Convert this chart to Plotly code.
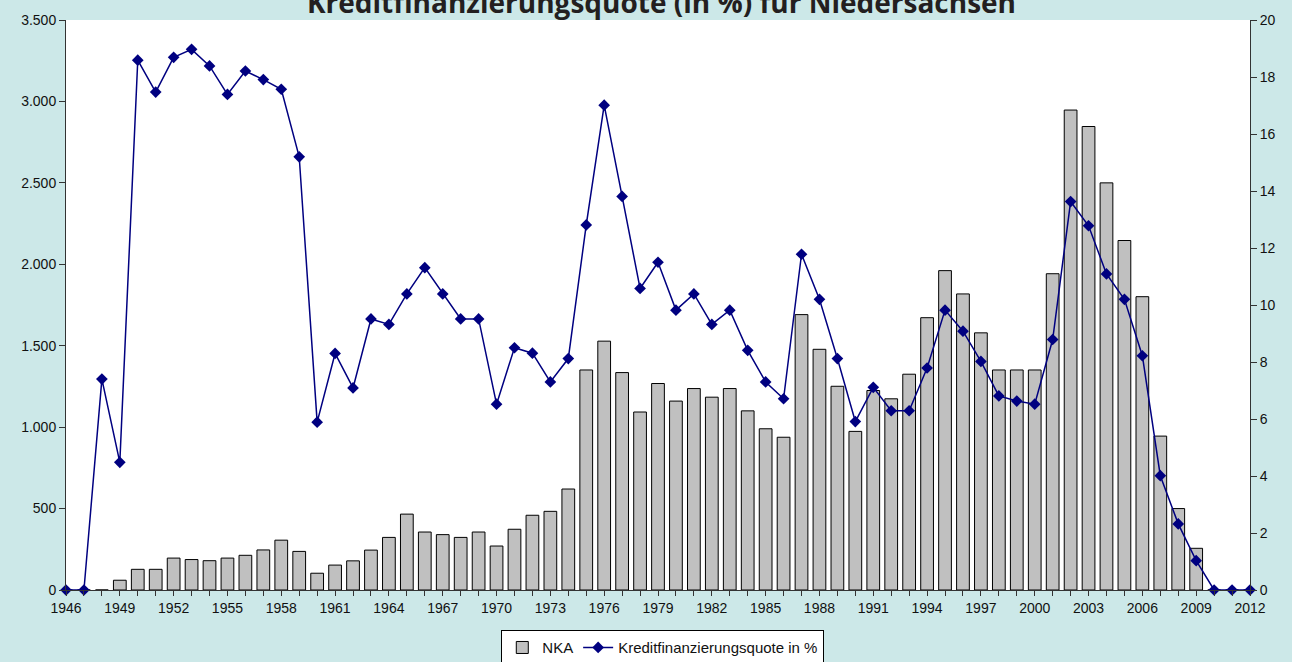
import plotly.graph_objects as go

years = list(range(1946, 2013))
nka = [0, 0, 0, 60, 127, 127, 196, 187, 180, 196, 213, 246, 306, 237, 103, 153, 179,
       245, 323, 466, 356, 340, 323, 356, 270, 373, 459, 483, 620, 1351, 1528, 1335,
       1093, 1268, 1160, 1237, 1184, 1237, 1100, 990, 938, 1691, 1478, 1251, 974, 1225,
       1174, 1325, 1672, 1961, 1818, 1579, 1351, 1351, 1351, 1942, 2947, 2846, 2500,
       2146, 1801, 945, 500, 256, 0, 0, 0]
quote = [0, 0, 7.4, 4.48, 18.59, 17.47, 18.69, 18.97, 18.39, 17.39, 18.21, 17.91, 17.57,
         15.2, 5.89, 8.3, 7.09, 9.51, 9.32, 10.39, 11.31, 10.39, 9.51, 9.51, 6.52, 8.5,
         8.31, 7.3, 8.12, 12.81, 17.01, 13.81, 10.58, 11.5, 9.82, 10.39, 9.32, 9.82, 8.41,
         7.3, 6.71, 11.78, 10.2, 8.12, 5.91, 7.11, 6.29, 6.29, 7.79, 9.82, 9.08, 8.02,
         6.81, 6.63, 6.52, 8.79, 13.63, 12.78, 11.09, 10.2, 8.22, 4.01, 2.32, 1.03, 0, 0, 0]

title_text = "Kreditfinanzierungsquote (in %) für Niedersachsen"
bar_name = "NKA"
line_name = "Kreditfinanzierungsquote in %"

fig = go.Figure()
fig.add_trace(go.Bar(
    x=years, y=nka, name=bar_name, width=0.71,
    marker=dict(color="#C0C0C0", line=dict(color="#000000", width=1)),
))
fig.add_trace(go.Scatter(
    x=years, y=quote, name=line_name, yaxis="y2", mode="lines+markers",
    line=dict(color="#000080", width=1.5),
    marker=dict(symbol="diamond", size=9, color="#000080"),
    cliponaxis=False,
))

axis_font = dict(family="Liberation Sans, Arial", size=14, color="#111111")
fig.update_layout(
    width=1292, height=662,
    paper_bgcolor="#CCE8E8", plot_bgcolor="#FFFFFF",
    margin=dict(l=66, r=42, t=20, b=72, autoexpand=False),
    separators=",.",
    title=dict(text="<b>" + title_text + "</b>", x=0.512, xanchor="center",
               y=0.9955, yref="container", yanchor="middle",
               font=dict(family="Open Sans, Noto Sans", size=28, color="#231F20")),
    bargap=0.3,
    showlegend=True,
    legend=dict(orientation="h", x=0.513, xanchor="center", xref="container",
                y=0.048, yanchor="top", yref="container",
                bgcolor="#FFFFFF", bordercolor="#000000", borderwidth=1,
                font=dict(family="Liberation Sans, Arial", size=15, color="#111111"),
                itemwidth=30, tracegroupgap=0),
    xaxis=dict(range=[1946, 2012], tickmode="linear", tick0=1946, dtick=3,
               ticks="outside", ticklen=5, tickcolor="#333333",
               showline=True, linecolor="#333333", linewidth=1,
               showgrid=False, zeroline=False, tickfont=axis_font,
               minor=dict(tickmode="linear", tick0=1946, dtick=1, ticks="outside",
                          ticklen=5, tickcolor="#333333", showgrid=False)),
    yaxis=dict(range=[0, 3500], tickmode="linear", tick0=0, dtick=500,
               tickformat=",d", ticks="outside", ticklen=6, tickcolor="#333333",
               showline=True, linecolor="#333333", linewidth=1,
               showgrid=False, zeroline=False, tickfont=axis_font),
    yaxis2=dict(range=[0, 20], tickmode="linear", tick0=0, dtick=2,
                overlaying="y", side="right", ticks="outside", ticklen=6,
                tickcolor="#333333", showline=True, linecolor="#333333", linewidth=1,
                showgrid=False, zeroline=False, tickfont=axis_font),
)

fig.write_html("out.html", config={"displayModeBar": False},
               post_script="document.body.style.margin='0';document.body.style.overflow='hidden';")
